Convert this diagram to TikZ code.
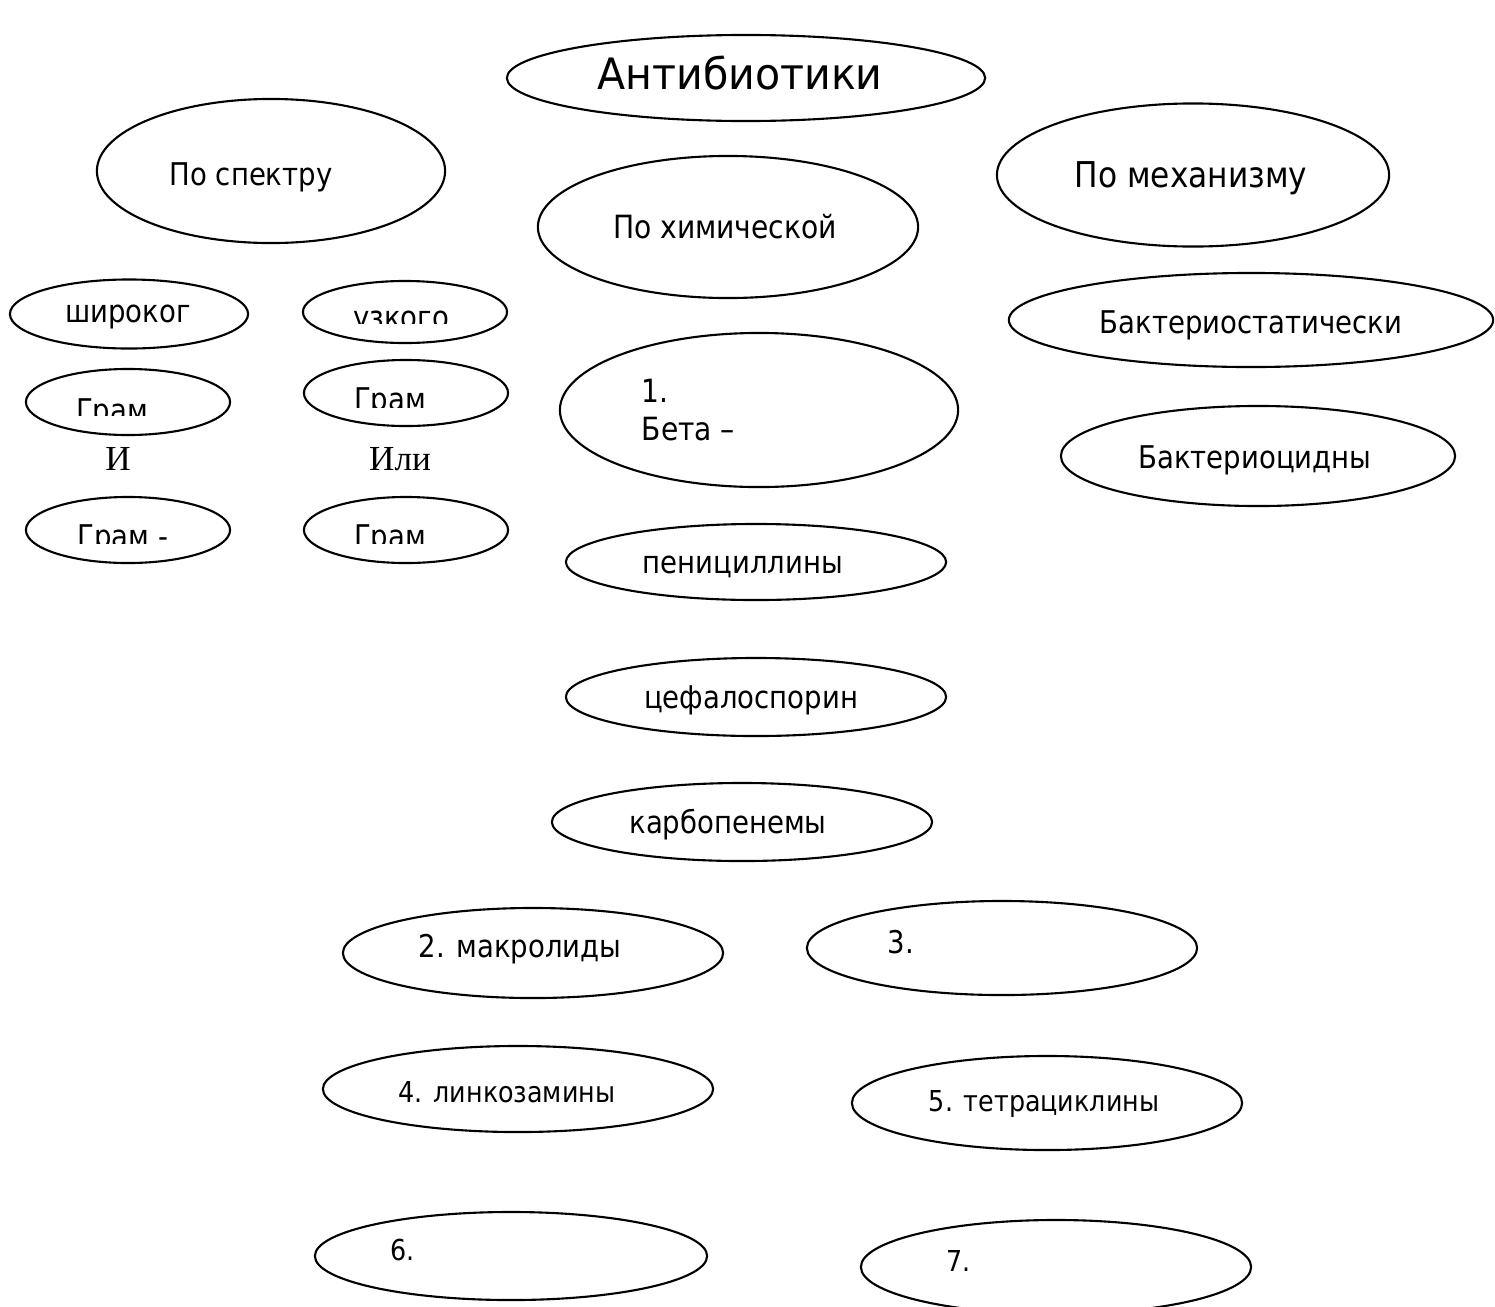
\documentclass[tikz,border=0pt]{standalone}
\usepackage{fontspec}
\setmainfont{DejaVu Sans}[FakeStretch=0.88]
\newfontfamily\serifText{Liberation Serif}
\newfontfamily\titleText{DejaVu Sans}[FakeStretch=0.95]
\usetikzlibrary{shapes.geometric}
\tikzstyle{oval} = [draw, ellipse, line width=.6pt, inner sep=0pt]
\tikzstyle{ovalText} = [anchor=base, inner sep=0pt, font=\fontsize{8.9}{10}\selectfont]
\tikzstyle{ovalTextLeft} = [anchor=base west, inner sep=0pt, font=\fontsize{8.9}{10}\selectfont]
\tikzstyle{smallText} = [font=\fontsize{8.2}{10}\selectfont]
\tikzstyle{joinText} = [anchor=base, inner sep=0pt, font=\serifText\fontsize{10}{11}\selectfont]
% name, x, y, width, height (width and height in cm)
\newcommand{\ovalNode}[5]{\node [oval, minimum width=#4cm, minimum height=#5cm] (#1) at (#2,#3) {};}
% clipped label: x, baseline, text, clip line
\newcommand{\cutText}[4]{
  \begin{scope}
    \clip (0,0) rectangle (1495,#4);
    \node [ovalText] at (#1,#2) {#3};
  \end{scope}
}

\begin{document}
\begin{tikzpicture}[x=.01cm, y=-.01cm]
    \useasboundingbox (0,0) rectangle (1495,1306);
    % top
    \ovalNode{antibiotics}{746}{78}{4.78}{0.86}
    \node [ovalText, font=\titleText\fontsize{12.3}{14}\selectfont] (antibioticsText) at (740,89) {Антибиотики};
    \ovalNode{spectrum}{271}{171}{3.48}{1.44}
    \node [ovalText] (spectrumText) at (251,185) {По спектру};
    \ovalNode{mechanism}{1193}{175}{3.92}{1.43}
    \node [ovalText, font=\fontsize{10.1}{12}\selectfont] (mechanismText) at (1191,187) {По механизму};
    \ovalNode{chemical}{728}{227}{3.80}{1.42}
    \node [ovalText, font=\fontsize{9.1}{11}\selectfont] (chemicalText) at (725,238) {По химической};
    % spectrum
    \ovalNode{broad}{129}{314}{2.38}{0.69}
    \node [ovalText] (broadText) at (128,322) {широког};
    \ovalNode{narrow}{405}{312}{2.04}{0.62}
    \cutText{401}{328}{узкого}{323}
    \ovalNode{gramA}{128}{402}{2.04}{0.66}
    \cutText{112}{421}{Грам}{415}
    \ovalNode{gramB}{406}{393}{2.04}{0.66}
    \cutText{390}{410}{Грам}{407}
    \node [joinText] (andText) at (118,470) {И};
    \node [joinText] (orText) at (400,470) {Или};
    \ovalNode{gramC}{128}{530}{2.04}{0.66}
    \cutText{123}{547}{Грам -}{543}
    \ovalNode{gramD}{406}{530}{2.04}{0.66}
    \cutText{390}{547}{Грам}{543}
    % mechanism
    \ovalNode{static}{1251}{320}{4.84}{0.94}
    \node [ovalText] (staticText) at (1251,333) {Бактериостатически};
    \ovalNode{cidal}{1258}{456}{3.94}{1.00}
    \node [ovalText] (cidalText) at (1255,468) {Бактериоцидны};
    % chemical structure
    \ovalNode{beta}{759}{410}{3.98}{1.54}
    \node [ovalTextLeft, font=\fontsize{9.1}{11}\selectfont] (betaNum) at (641,402) {1.};
    \node [ovalTextLeft, font=\fontsize{9.1}{11}\selectfont] (betaText) at (641,440) {Бета –};
    \ovalNode{penicillins}{756}{562}{3.80}{0.76}
    \node [ovalText] (penicillinsText) at (743,573) {пенициллины};
    \ovalNode{cephalosporins}{756}{697}{3.80}{0.78}
    \node [ovalText] (cephalosporinsText) at (751,708) {цефалоспорин};
    \ovalNode{carbapenems}{742}{822}{3.80}{0.78}
    \node [ovalText] (carbapenemsText) at (728,833) {карбопенемы};
    \ovalNode{macrolides}{533}{953}{3.80}{0.90}
    \node [ovalText] (macrolidesText) at (520,957) {2. макролиды};
    \ovalNode{third}{1002}{948}{3.90}{0.94}
    \node [ovalTextLeft] (thirdText) at (887,953) {3.};
    \ovalNode{lincosamides}{518}{1089}{3.90}{0.86}
    \node [ovalText, smallText] (lincosamidesText) at (507,1102) {4. линкозамины};
    \ovalNode{tetracyclines}{1047}{1103}{3.90}{0.94}
    \node [ovalText, smallText] (tetracyclinesText) at (1044,1111) {5. тетрациклины};
    \ovalNode{sixth}{511}{1256}{3.92}{0.88}
    \node [ovalTextLeft, smallText] (sixthText) at (390,1260) {6.};
    \ovalNode{seventh}{1056}{1267}{3.90}{0.94}
    \node [ovalTextLeft, smallText] (seventhText) at (946,1271) {7.};
\end{tikzpicture}
\end{document}
